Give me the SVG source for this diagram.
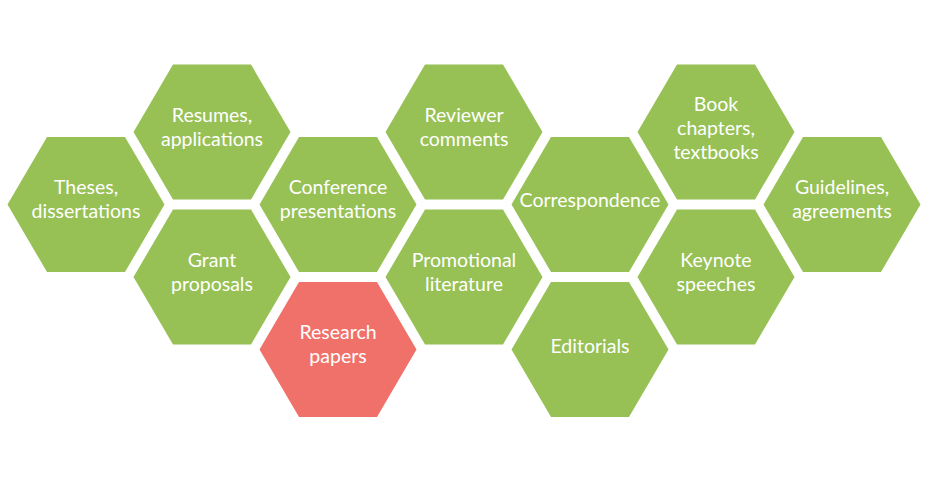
<svg xmlns="http://www.w3.org/2000/svg" xmlns:xlink="http://www.w3.org/1999/xlink" width="946" height="500" viewBox="0 0 946 500">
<style>
.g{fill:#97c155}
.r{fill:#f0716a}
text{font-family:Lato,"Open Sans","Liberation Sans",sans-serif;font-size:19.5px;fill:#ffffff;text-anchor:middle}
</style>
<defs>
<polygon id="hex" points="-78.5,0 -39,-67.5 39,-67.5 78.5,0 39,67.5 -39,67.5"/>
</defs>
<rect width="946" height="500" fill="#ffffff"/>
<g id="theses"><use href="#hex" class="g" x="86" y="204.5"/><text x="86" y="194">Theses,</text><text x="86" y="218">dissertations</text></g>
<g id="resumes"><use href="#hex" class="g" x="212" y="132"/><text x="212" y="122">Resumes,</text><text x="212" y="146">applications</text></g>
<g id="grant"><use href="#hex" class="g" x="212" y="277"/><text x="212" y="267">Grant</text><text x="212" y="291">proposals</text></g>
<g id="conference"><use href="#hex" class="g" x="338" y="204.5"/><text x="338" y="194">Conference</text><text x="338" y="218">presentations</text></g>
<g id="research"><use href="#hex" class="r" x="338" y="349.5"/><text x="338" y="339">Research</text><text x="338" y="363">papers</text></g>
<g id="reviewer"><use href="#hex" class="g" x="464" y="132"/><text x="464" y="122">Reviewer</text><text x="464" y="146">comments</text></g>
<g id="promotional"><use href="#hex" class="g" x="464" y="277"/><text x="464" y="267">Promotional</text><text x="464" y="291">literature</text></g>
<g id="correspondence"><use href="#hex" class="g" x="590" y="204.5"/><text x="590" y="206.5">Correspondence</text></g>
<g id="editorials"><use href="#hex" class="g" x="590" y="349.5"/><text x="590" y="353">Editorials</text></g>
<g id="book"><use href="#hex" class="g" x="716" y="132"/><text x="716" y="111">Book</text><text x="716" y="135">chapters,</text><text x="716" y="159">textbooks</text></g>
<g id="keynote"><use href="#hex" class="g" x="716" y="277"/><text x="716" y="267">Keynote</text><text x="716" y="291">speeches</text></g>
<g id="guidelines"><use href="#hex" class="g" x="842" y="204.5"/><text x="842" y="194">Guidelines,</text><text x="842" y="218">agreements</text></g>
</svg>
